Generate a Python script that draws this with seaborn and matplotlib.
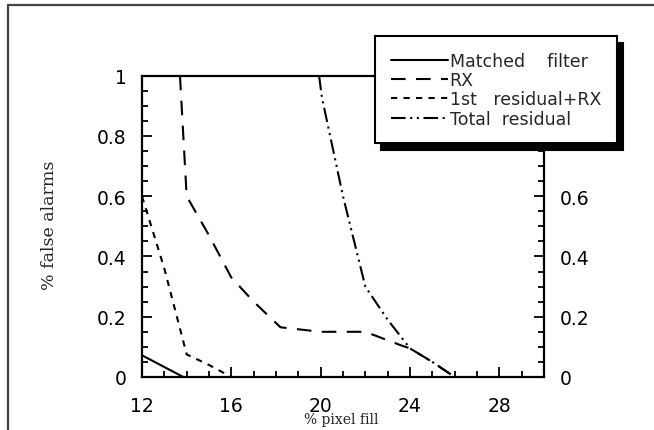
import matplotlib
matplotlib.use("Agg")
import matplotlib.pyplot as plt
import seaborn as sns
import pandas as pd
from matplotlib.lines import Line2D
from matplotlib.ticker import FixedLocator, MultipleLocator

# ---- data ----
mf_x = [12.0, 13.85]
mf_y = [0.072, 0.0]
rx_x = [13.7, 14.0, 15.0, 16.0, 17.0, 18.2, 20.0, 22.0, 23.6, 24.0, 25.0, 26.0]
rx_y = [1.0, 0.6, 0.47, 0.33, 0.25, 0.165, 0.15, 0.15, 0.105, 0.095, 0.05, 0.0]
r1_x = [12.0, 13.0, 14.0, 15.0, 16.0]
r1_y = [0.6, 0.36, 0.075, 0.04, 0.0]
tr_x = [19.93, 20.05, 21.0, 22.0, 23.0, 24.0, 25.0, 26.0]
tr_y = [1.0, 0.93, 0.6, 0.3, 0.19, 0.095, 0.05, 0.0]
series_labels = ["Matched    filter", "RX", "1st   residual+RX", "Total  residual"]
xtick_vals = [12, 16, 20, 24, 28]
ytick_vals = [0, 0.2, 0.4, 0.6, 0.8, 1.0]
ytick_labels = ["0", "0.2", "0.4", "0.6", "0.8", "1"]
xlabel = "% pixel fill"
ylabel = "% false alarms"

sns.set_style("ticks")
plt.rcParams['font.family'] = ['DejaVu Sans']

fig = plt.figure(figsize=(6.54, 4.31), dpi=100)
ax = fig.add_axes([142/654, 1-378/431, (544-142)/654, (378-76.7)/431])

styles = ["-", (0, (7, 5)), (0, (3, 3)), (0, (7, 2.2, 1, 2.2, 1, 2.2))]
series = [(mf_x, mf_y), (rx_x, rx_y), (r1_x, r1_y), (tr_x, tr_y)]
handles = []
for (xs, ys), ls, lab in zip(series, styles, series_labels):
    df = pd.DataFrame({"x": xs, "y": ys})
    sns.lineplot(data=df, x="x", y="y", ax=ax, color="black", lw=1.5,
                 linestyle=ls, sort=False, estimator=None)
    handles.append(Line2D([], [], color="black", lw=1.5, linestyle=ls))

if ax.get_legend() is not None:
    ax.get_legend().remove()

ax.set_xlim(12, 30)
ax.set_ylim(0, 1)
ax.xaxis.set_major_locator(FixedLocator(xtick_vals))
ax.xaxis.set_minor_locator(MultipleLocator(1))
ax.yaxis.set_major_locator(FixedLocator(ytick_vals))
ax.yaxis.set_minor_locator(MultipleLocator(0.05))
ax.set_yticklabels(ytick_labels)
ax.set_xticklabels([str(v) for v in xtick_vals])

for sp in ax.spines.values():
    sp.set_linewidth(1.6)
    sp.set_color("black")

ax.tick_params(axis="x", which="both", direction="in", top=False, bottom=True,
               labelsize=13.5, pad=13.5, width=1.3, colors="black")
ax.tick_params(axis="x", which="major", length=7)
ax.tick_params(axis="x", which="minor", length=4)
ax.tick_params(axis="y", which="both", direction="in", left=True, right=True,
               labelleft=True, labelright=True, labelsize=13.5, width=1.3,
               colors="black")
ax.tick_params(axis="y", which="major", length=7, pad=11)
ax.tick_params(axis="y", which="minor", length=4.5)

ax.set_xlabel(xlabel, family="DejaVu Serif", fontsize=10)
ax.set_ylabel(ylabel, family="DejaVu Serif", fontsize=12.5)
ax.xaxis.set_label_coords((341-142)/402, (378-420)/301.3)
ax.xaxis.label.set_va("center")
ax.yaxis.set_label_coords((49-142)/402, (378-225)/301.3)
ax.yaxis.label.set_va("center")

leg = fig.legend(handles, series_labels, loc="upper left",
                 bbox_to_anchor=(375/654, 1-37/431), borderaxespad=0,
                 fontsize=12.5, handlelength=3.3, handletextpad=0.1,
                 labelspacing=0.08, borderpad=0.9, frameon=True,
                 fancybox=False, framealpha=1,
                 shadow={"ox": 4.5, "oy": -5, "color": "black", "alpha": 1})
leg.get_frame().set_edgecolor("black")
leg.get_frame().set_linewidth(1.5)

# outer figure frame (top and left edges)
fig.add_artist(Line2D([8/654, 1.0], [1-6/431, 1-6/431], color="#444444",
                      lw=1.6, transform=fig.transFigure))
fig.add_artist(Line2D([8/654, 8/654], [0, 1-6/431], color="#444444",
                      lw=1.6, transform=fig.transFigure))

fig.savefig("out.png", dpi=100)
